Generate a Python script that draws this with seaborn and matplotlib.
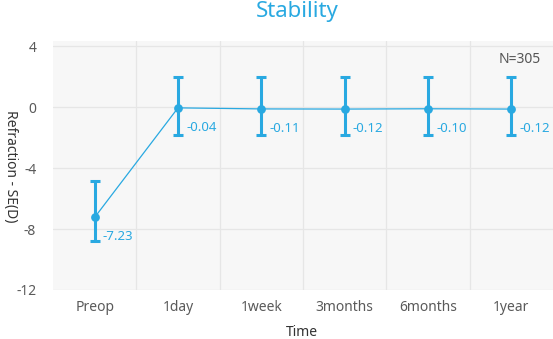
import matplotlib
matplotlib.use("Agg")
import matplotlib.pyplot as plt
from matplotlib.ticker import FixedLocator
import seaborn as sns
import pandas as pd
import numpy as np

categories = ["Preop", "1day", "1week", "3months", "6months", "1year"]
means = [-7.23, -0.04, -0.11, -0.12, -0.10, -0.12]
upper = [-4.83, 1.99, 1.99, 1.99, 1.99, 1.99]
lower = [-8.81, -1.79, -1.79, -1.79, -1.79, -1.79]
value_labels = ["-7.23", "-0.04", "-0.11", "-0.12", "-0.10", "-0.12"]
yticks = [4, 0, -4, -8, -12]

blue = "#29a9e1"
sns.set_theme(style="white")
plt.rcParams["font.family"] = ["Noto Sans", "DejaVu Sans"]
plt.rcParams["axes.unicode_minus"] = False

df = pd.DataFrame({"Time": categories, "Value": means})

fig = plt.figure(figsize=(5.53, 3.39), dpi=100)
ax = fig.add_axes([53/553, 1-290/339, 500/553, 249/339])
ax.set_facecolor("#f7f7f7")

x = np.arange(len(categories))
m = np.array(means)
yerr = np.vstack([m - np.array(lower), np.array(upper) - m])
ax.errorbar(x, m, yerr=yerr, fmt="none", ecolor=blue, elinewidth=2.2,
            capsize=3.8, capthick=2.2, zorder=3)
sns.lineplot(data=df, x="Time", y="Value", ax=ax, color=blue, linewidth=0.9,
             marker="o", markersize=6.3, markeredgewidth=0, sort=False, zorder=4)

for xi, yi, lab in zip(x, means, value_labels):
    ax.annotate(lab, (xi, yi), xytext=(6, -14), textcoords="offset points",
                color=blue, fontsize=9.5, ha="left", va="center")

ax.set_xlim(-0.5, 5.5)
ax.set_ylim(-12, 4.35)
ax.set_yticks(yticks)
ax.set_xticks(x)
ax.set_xticklabels(categories)
ax.xaxis.set_minor_locator(FixedLocator(np.arange(0.5, 5.5, 1)))
ax.grid(False)
ax.grid(True, axis="y", which="major", color="#e6e6e6", linewidth=0.9)
ax.grid(True, axis="x", which="minor", color="#e6e6e6", linewidth=0.9)
ax.set_axisbelow(True)
for s in ax.spines.values():
    s.set_visible(False)
ax.tick_params(axis="both", which="both", length=0, labelsize=10, labelcolor="#5a5a5a")
ax.tick_params(axis="y", pad=12)
ax.tick_params(axis="x", pad=7)

ax.set_xlabel("")
ax.set_ylabel("")
fig.text(302/553, 1-332/339, "Time", fontsize=10, color="#333333", ha="center", va="center")
fig.text(10/553, 1-166/339, "Refraction - SE(D)", rotation=-90, fontsize=10,
         color="#333333", ha="center", va="center")
fig.text(297/553, 1-11/339, "Stability", fontsize=16, color=blue, ha="center", va="center")
ax.text(0.975, 0.925, "N=305", transform=ax.transAxes, fontsize=10, color="#555555",
        ha="right", va="center")

fig.savefig("out.png", dpi=100)
